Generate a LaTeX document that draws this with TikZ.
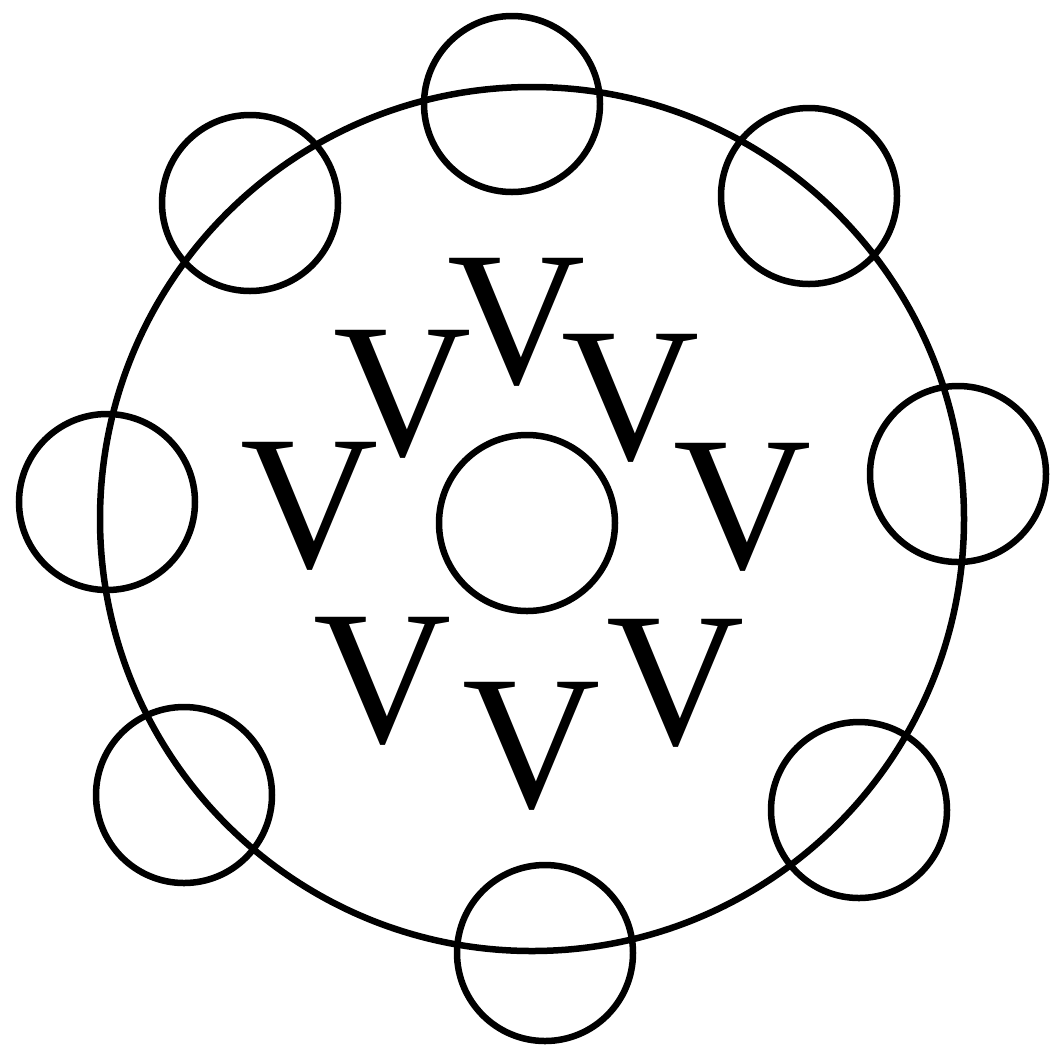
\documentclass[tikz,border=0pt]{standalone}
\usepackage{fontspec}
\setmainfont{Liberation Serif}
\usepackage{tikz}

\begin{document}
\begin{tikzpicture}[
    x=0.025cm, y=-0.025cm,
    ring/.style={draw, circle, line width=6.5*0.025cm, inner sep=0pt, minimum size=176*0.025cm},
    letter/.style={inner sep=0pt, font=\fontsize{136}{136}\selectfont}
  ]
  \useasboundingbox (0,0) rectangle (1050,1048);
  \node[draw, circle, line width=6.5*0.025cm, inner sep=0pt, minimum size=864*0.025cm] (outer) at (532,519) {};
  \node[ring] (hub) at (527,523) {};
  \foreach \name/\x/\y in {top/512/104, tl/250/203, tr/809/196, left/107/502,
      right/958/474, bl/184/795, bottom/545/953, br/859/810}
    \node[ring] (\name) at (\x,\y) {};
  \foreach \name/\x/\y in {v1/517/322, v2/403/394, v3/631/398, v4/310/506,
      v5/743/507, v6/383/681, v7/532/746, v8/676/683}
    \node[letter] (\name) at (\x,\y) {V};
\end{tikzpicture}
\end{document}
